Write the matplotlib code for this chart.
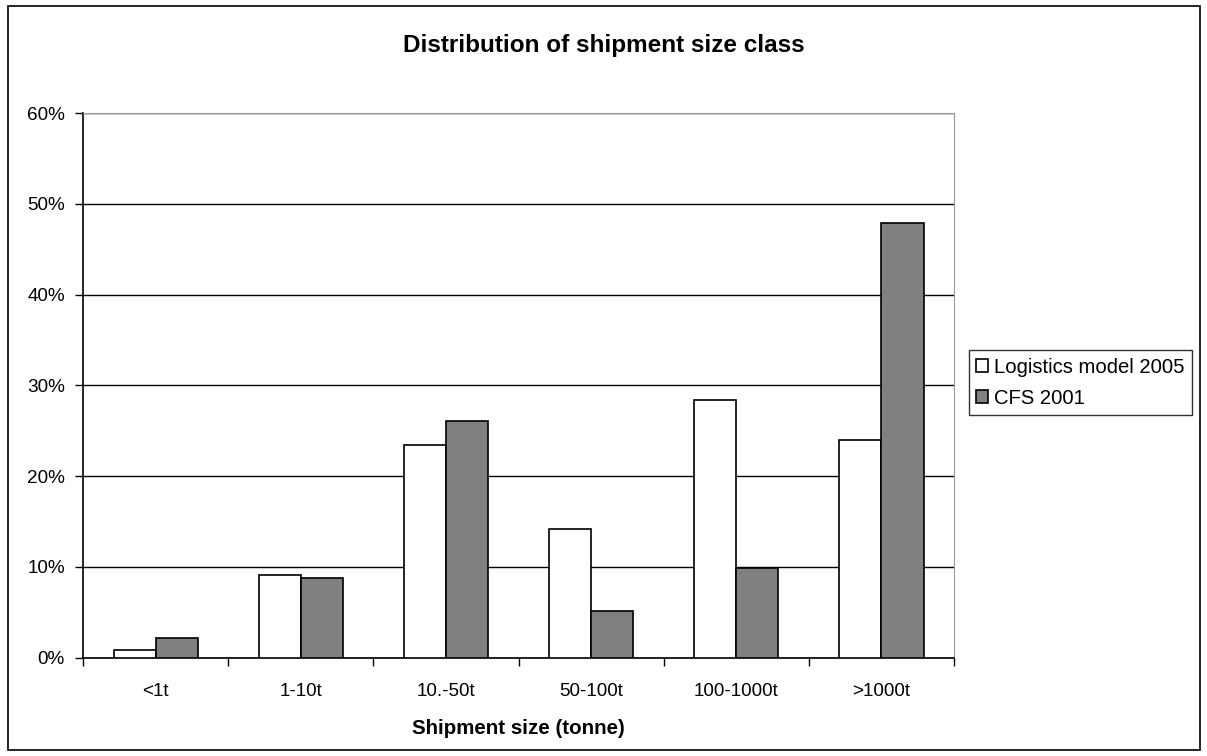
import numpy as np
import matplotlib
matplotlib.use("Agg")
import matplotlib.pyplot as plt
from matplotlib.patches import Rectangle

plt.rcParams['font.family'] = ['Liberation Sans', 'DejaVu Sans']

# data (percent)
categories = ['<1t', '1-10t', '10.-50t', '50-100t', '100-1000t', '>1000t']
logistics_2005 = [0.9, 9.1, 23.4, 14.2, 28.4, 24.0]
cfs_2001 = [2.2, 8.8, 26.1, 5.2, 9.85, 47.9]

fig = plt.figure(figsize=(12.07, 7.56), dpi=100)
# outer chart border
fig.patches.append(Rectangle((0.007, 0.008), 0.987, 0.984, transform=fig.transFigure,
                             fill=False, edgecolor='black', linewidth=1.2))

ax = fig.add_axes([0.0688, 0.130, 0.7216, 0.7205])
x = np.arange(len(categories))
w = 0.29
ax.bar(x - w / 2, logistics_2005, w, color='white', edgecolor='black',
       linewidth=1.2, label='Logistics model 2005', zorder=3)
ax.bar(x + w / 2, cfs_2001, w, color='#808080', edgecolor='black',
       linewidth=1.2, label='CFS 2001', zorder=3)

ax.set_xlim(-0.5, len(categories) - 0.5)
ax.set_ylim(0, 60)
ax.set_yticks(range(0, 61, 10))
ax.set_yticklabels([f'{v}%' for v in range(0, 61, 10)], fontsize=13.6)
ax.yaxis.grid(True, color='black', linewidth=1.0, zorder=0)

ax.set_xticks(x)
ax.set_xticklabels(categories, fontsize=13.6)
ax.tick_params(axis='x', length=0, pad=18)
ax.set_xticks(np.arange(-0.5, len(categories)), minor=True)
ax.tick_params(axis='x', which='minor', length=6, width=1, color='black', direction='out')
ax.tick_params(axis='y', length=6, width=1, direction='out', pad=7)

for side in ['top', 'right']:
    ax.spines[side].set_color('#999999')
for side in ['left', 'bottom']:
    ax.spines[side].set_color('black')
    ax.spines[side].set_linewidth(1.2)

ax.set_xlabel('Shipment size (tonne)', fontsize=14.8, fontweight='bold', labelpad=14)
fig.suptitle('Distribution of shipment size class', fontsize=17.5, fontweight='bold', y=0.955)

leg = ax.legend(loc='center left', bbox_to_anchor=(1.01, 0.505), fontsize=14.6,
                frameon=True, fancybox=False, edgecolor='black', handlelength=0.6,
                handleheight=0.6, handletextpad=0.3, borderpad=0.35, labelspacing=0.6,
                borderaxespad=0.3)
leg.get_frame().set_linewidth(1.0)

fig.savefig('out.png', dpi=100)
